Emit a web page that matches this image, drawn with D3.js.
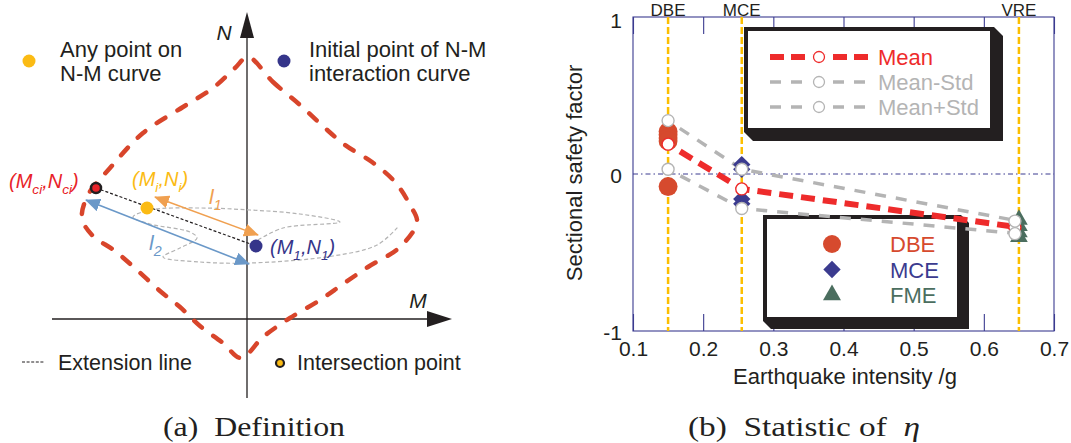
<!DOCTYPE html>
<html>
<head>
<meta charset="utf-8">
<script src="https://cdn.jsdelivr.net/npm/d3@7"></script>
<style>
  body { margin: 0; background: #fff; }
  svg text { font-family: "Liberation Sans", Arial, sans-serif; }
</style>
</head>
<body>
<div id="container"></div>
<script>
/* DATA ############################################################ */
// (a) N-M diagram, points in M / N units (origin at the axes crossing)
const envelope = [
  [1, 262], [26, 237], [53, 214], [78, 191], [98, 174], [125, 157], [148, 137],
  [163, 114], [170, 97], [153, 72], [121, 52], [96, 35], [73, 19], [43, 1],
  [16, -18], [-6, -39], [-24, -24], [-47, -7], [-67, 12], [-87, 28], [-110, 49],
  [-132, 68], [-155, 84], [-165, 101], [-159, 124], [-137, 151], [-104, 186],
  [-64, 212], [-34, 231], [-12, 251],
];
const loadPath = [
  [11, 79], [36, 91], [93, 97], [53, 105], [3, 109], [-47, 111], [-97, 109],
  [-114, 102], [-97, 95], [-57, 87], [-50, 81], [-67, 71], [-84, 62], [-47, 57],
  [3, 56], [86, 63], [130, 74], [151, 92],
];
const pointCi = [-151, 131];
const pointI = [-100, 111];
const point1 = [9, 73];
const arrowL1 = [[-92, 122], [11, 84]];
const arrowL2 = [[-161, 119], [2, 55]];

// (b) statistic of eta
const levelNames = ["DBE", "MCE", "VRE"];
const levelIntensity = [0.15, 0.255, 0.65];
const dbeEta = [0.27, 0.25, 0.23, 0.21, -0.08];
const mceEta = [0.06, 0.03, -0.16, -0.19];
const fmeEta = [-0.29, -0.33, -0.37, -0.4];
const meanEta = [0.19, -0.095, -0.34];
const meanMinusStdEta = [0.03, -0.22, -0.38];
const meanPlusStdEta = [0.34, 0.03, -0.3];
const xTicks = [0.1, 0.2, 0.3, 0.4, 0.5, 0.6, 0.7];
const yTicks = [-1, 0, 1];

/* COLORS ########################################################## */
const navy = "#3b3b90";
const ink = "#231f20";
const envRed = "#d8452b";
const gold = "#fbbb14";
const dbeColor = "#d64a2e";
const mceColor = "#3b3b8f";
const fmeColor = "#4b6e5f";
const meanRed = "#ee2b2b";
const stdGray = "#b4b4b4";
const vlineGold = "#fcbf00";

const svg = d3
  .select("#container")
  .append("svg")
  .attr("width", 1071)
  .attr("height", 443)
  .style("background-color", "white");

const defs = svg.append("defs");
[["head-orange", "#f0a050"], ["head-blue", "#6a98c8"]].forEach(([id, c]) => {
  defs
    .append("marker")
    .attr("id", id)
    .attr("viewBox", "0 0 15 13")
    .attr("markerWidth", 15)
    .attr("markerHeight", 13)
    .attr("markerUnits", "userSpaceOnUse")
    .attr("refX", 14)
    .attr("refY", 6.5)
    .attr("orient", "auto-start-reverse")
    .append("path")
    .attr("d", "M0,0 L15,6.5 L0,13 Z")
    .attr("fill", c);
});

// helper for italic labels with subscripts
function subLabel(g, x, y, parts, color, size) {
  const t = g
    .append("text")
    .attr("x", x)
    .attr("y", y)
    .attr("fill", color)
    .style("font-size", size + "px")
    .style("font-style", "italic");
  let low = false;
  parts.forEach(([txt, sub]) => {
    const s = t.append("tspan").text(txt);
    if (sub && !low) s.attr("dy", size * 0.28);
    if (!sub && low) s.attr("dy", -size * 0.28);
    if (sub) s.style("font-size", size * 0.68 + "px");
    low = sub;
  });
  return t;
}

/* (a) DEFINITION ################################################## */
const sx = d3.scaleLinear().domain([-195, 205]).range([52, 452]);
const sy = d3.scaleLinear().domain([-79, 307]).range([398, 12]);
const gA = svg.append("g");

// axes
gA.append("line")
  .attr("x1", sx(0)).attr("x2", sx(0))
  .attr("y1", sy(-79)).attr("y2", sy(282))
  .attr("stroke", ink).attr("stroke-width", 1.3);
gA.append("path")
  .attr("d", `M${sx(0)},${sy(307)} L${sx(0) + 7},${sy(281)} L${sx(0) - 7},${sy(281)} Z`)
  .attr("fill", ink);
gA.append("line")
  .attr("x1", sx(-195)).attr("x2", sx(181))
  .attr("y1", sy(0)).attr("y2", sy(0))
  .attr("stroke", ink).attr("stroke-width", 1.3);
gA.append("path")
  .attr("d", `M${sx(205)},${sy(0)} L${sx(180)},${sy(0) - 8} L${sx(180)},${sy(0) + 8} Z`)
  .attr("fill", ink);
gA.append("text").attr("x", 224).attr("y", 40).attr("text-anchor", "middle")
  .style("font-size", "21px").style("font-style", "italic").attr("fill", ink).text("N");
gA.append("text").attr("x", 418).attr("y", 308).attr("text-anchor", "middle")
  .style("font-size", "21px").style("font-style", "italic").attr("fill", ink).text("M");

// envelope
const lineA = d3.line().x((d) => sx(d[0])).y((d) => sy(d[1]));
gA.append("path")
  .attr("d", lineA.curve(d3.curveCatmullRomClosed)(envelope))
  .attr("fill", "none")
  .attr("stroke", envRed)
  .attr("stroke-width", 4.5)
  .attr("stroke-linecap", "round")
  .attr("stroke-dasharray", "10,14");

// load path
gA.append("path")
  .attr("d", lineA.curve(d3.curveCatmullRom)(loadPath))
  .attr("fill", "none")
  .attr("stroke", "#b3b3b3")
  .attr("stroke-width", 1.2)
  .attr("stroke-dasharray", "4,2.5");

// extension line
gA.append("line")
  .attr("x1", sx(pointCi[0])).attr("y1", sy(pointCi[1]))
  .attr("x2", sx(point1[0])).attr("y2", sy(point1[1]))
  .attr("stroke", ink).attr("stroke-width", 1.2).attr("stroke-dasharray", "3,2");

// arrows
[[arrowL1, "#f0a050", "head-orange"], [arrowL2, "#6a98c8", "head-blue"]].forEach(([a, c, m]) => {
  gA.append("line")
    .attr("x1", sx(a[0][0])).attr("y1", sy(a[0][1]))
    .attr("x2", sx(a[1][0])).attr("y2", sy(a[1][1]))
    .attr("stroke", c).attr("stroke-width", 1.6)
    .attr("marker-start", `url(#${m})`).attr("marker-end", `url(#${m})`);
});

// points
gA.append("circle").attr("cx", sx(pointCi[0])).attr("cy", sy(pointCi[1])).attr("r", 5)
  .attr("fill", "#e8232a").attr("stroke", ink).attr("stroke-width", 2.5);
gA.append("circle").attr("cx", sx(pointI[0])).attr("cy", sy(pointI[1])).attr("r", 6.5)
  .attr("fill", gold);
gA.append("circle").attr("cx", sx(point1[0])).attr("cy", sy(point1[1])).attr("r", 6.5)
  .attr("fill", "#35358a");

// point labels
subLabel(gA, 9, 188, [["(", 0], ["M", 0], ["ci", 1], [",", 0], ["N", 0], ["ci", 1], [")", 0]], "#e8232a", 20);
subLabel(gA, 132, 186, [["(", 0], ["M", 0], ["i", 1], [",", 0], ["N", 0], ["i", 1], [")", 0]], gold, 20);
subLabel(gA, 270, 254, [["(", 0], ["M", 0], ["1", 1], [",", 0], ["N", 0], ["1", 1], [")", 0]], "#35358a", 20);
subLabel(gA, 209, 204, [["l", 0], ["1", 1]], "#f0a050", 21);
subLabel(gA, 149, 250, [["l", 0], ["2", 1]], "#6a98c8", 21);

// legend texts
gA.append("circle").attr("cx", 29).attr("cy", 61).attr("r", 6.5).attr("fill", gold);
gA.append("text").attr("x", 60).attr("y", 57).style("font-size", "22px").attr("fill", ink).text("Any point on");
gA.append("text").attr("x", 60).attr("y", 81).style("font-size", "22px").attr("fill", ink).text("N-M curve");
gA.append("circle").attr("cx", 284).attr("cy", 61).attr("r", 6.5).attr("fill", "#35358a");
gA.append("text").attr("x", 309).attr("y", 57).style("font-size", "22px").attr("fill", ink).text("Initial point of N-M");
gA.append("text").attr("x", 309).attr("y", 81).style("font-size", "22px").attr("fill", ink).text("interaction curve");
gA.append("line").attr("x1", 22).attr("x2", 44).attr("y1", 362).attr("y2", 362)
  .attr("stroke", ink).attr("stroke-width", 1).attr("stroke-dasharray", "3,1.6");
gA.append("text").attr("x", 58).attr("y", 370).style("font-size", "21.5px").attr("fill", ink).text("Extension line");
gA.append("circle").attr("cx", 280).attr("cy", 363).attr("r", 4).attr("fill", gold)
  .attr("stroke", ink).attr("stroke-width", 2.2);
gA.append("text").attr("x", 297).attr("y", 370).style("font-size", "21.5px").attr("fill", ink).text("Intersection point");

// caption
gA.append("text")
  .attr("x", 163).attr("y", 436)
  .attr("textLength", 182).attr("lengthAdjust", "spacingAndGlyphs")
  .style("font-family", "'Liberation Serif', 'Times New Roman', serif")
  .style("font-size", "28px").style("white-space", "pre")
  .attr("fill", ink).text("(a)  Definition");

/* (b) STATISTIC OF ETA ############################################ */
const x = d3.scaleLinear().domain([0.1, 0.7]).range([633, 1054]);
const y = d3.scaleLinear().domain([-1, 1]).range([331, 17]);
const gB = svg.append("g");

// frame
gB.append("rect")
  .attr("x", x(0.1)).attr("y", y(1))
  .attr("width", x(0.7) - x(0.1)).attr("height", y(-1) - y(1))
  .attr("fill", "none").attr("stroke", navy).attr("stroke-width", 1.1);

// zero line
gB.append("line")
  .attr("x1", x(0.1)).attr("x2", x(0.7)).attr("y1", y(0)).attr("y2", y(0))
  .attr("stroke", navy).attr("stroke-width", 1).attr("stroke-dasharray", "5,3,1.5,3");

// axes
const xAxisB = gB.append("g")
  .attr("transform", `translate(0,${y(-1)})`)
  .call(d3.axisBottom(x).tickValues(xTicks).tickSizeInner(-17).tickSizeOuter(0)
    .tickPadding(10).tickFormat(d3.format(".1f")));
const xAxisT = gB.append("g")
  .attr("transform", `translate(0,${y(1)})`)
  .call(d3.axisTop(x).tickValues(xTicks).tickSizeInner(-17).tickSizeOuter(0).tickFormat(""));
const yAxisL = gB.append("g")
  .attr("transform", `translate(${x(0.1)},0)`)
  .call(d3.axisLeft(y).tickValues(yTicks).tickSize(0).tickPadding(11).tickFormat((d) => d));
[xAxisB, xAxisT, yAxisL].forEach((a) => {
  a.select(".domain").remove();
  a.selectAll("line").attr("stroke", navy).attr("stroke-width", 1.1);
  a.selectAll("text").style("font-size", "21px").style("font-family", "'Liberation Sans', Arial, sans-serif").attr("fill", ink);
});
yAxisL.selectAll("text").attr("dy", (d) => (d === 1 ? "0.5em" : "0.4em"));

gB.append("text")
  .attr("x", 845).attr("y", 384).attr("text-anchor", "middle")
  .style("font-size", "22px").attr("fill", ink).text("Earthquake intensity /g");
gB.append("text")
  .attr("transform", "translate(582,173) rotate(-90)").attr("text-anchor", "middle")
  .style("font-size", "22px").attr("fill", ink).text("Sectional safety factor");

// level lines and labels
gB.selectAll(".level-line")
  .data(levelIntensity)
  .join("line")
  .attr("class", "level-line")
  .attr("x1", (d) => x(d)).attr("x2", (d) => x(d))
  .attr("y1", y(1)).attr("y2", y(-1))
  .attr("stroke", vlineGold).attr("stroke-width", 2.5).attr("stroke-dasharray", "7,3");
gB.selectAll(".level-label")
  .data(levelNames)
  .join("text")
  .attr("class", "level-label")
  .attr("x", (_, i) => x(levelIntensity[i])).attr("y", 16)
  .attr("text-anchor", "middle").style("font-size", "17px").attr("fill", ink)
  .text((d) => d);

// legend boxes
function legendBox(x0, y0, w, h, off) {
  gB.append("path")
    .attr("d", `M${x0},${y0} L${x0 + w},${y0} L${x0 + w + off},${y0 + off} L${x0 + w + off},${y0 + h + off} L${x0 + off},${y0 + h + off} L${x0},${y0 + h} Z`)
    .attr("fill", ink);
  gB.append("rect")
    .attr("x", x0 + 2).attr("y", y0 + 2).attr("width", w - 4).attr("height", h - 4)
    .attr("fill", "white").attr("stroke", ink).attr("stroke-width", 4);
}
legendBox(744, 27, 250, 105, 9);
legendBox(763, 215, 198, 106, 8);

// legend 1 : mean / std
const legend1 = [
  ["Mean", meanRed, meanRed, 6, "14,7"],
  ["Mean-Std", stdGray, stdGray, 3.5, "11,10"],
  ["Mean+Std", stdGray, stdGray, 3.5, "11,10"],
];
legend1.forEach(([name, c, sc, w, dash], i) => {
  const cy = 57 + i * 25;
  gB.append("line").attr("x1", 770).attr("x2", 868).attr("y1", cy).attr("y2", cy)
    .attr("stroke", c).attr("stroke-width", w).attr("stroke-dasharray", dash);
  gB.append("circle").attr("cx", 819).attr("cy", cy).attr("r", 7.5).attr("fill", "white");
  gB.append("circle").attr("cx", 819).attr("cy", cy).attr("r", 5.5).attr("fill", "white")
    .attr("stroke", sc).attr("stroke-width", 1.3);
  gB.append("text").attr("x", 878).attr("y", cy + 8).style("font-size", "22px").attr("fill", c).text(name);
});

// legend 2 : data markers
const sym = {
  DBE: d3.symbol(d3.symbolCircle, 254)(),
  MCE: d3.symbol(d3.symbolSquare, 150)(),
  FME: d3.symbol(d3.symbolTriangle, 140)(),
};
const legend2 = [["DBE", dbeColor], ["MCE", mceColor], ["FME", fmeColor]];
legend2.forEach(([name, c], i) => {
  const cy = 244 + i * 25.5;
  gB.append("path").attr("d", sym[name])
    .attr("transform", `translate(832,${cy})` + (name === "MCE" ? " rotate(45)" : ""))
    .attr("fill", c);
  gB.append("text").attr("x", 890).attr("y", cy + 8).style("font-size", "22px").attr("fill", c).text(name);
});

// statistic lines
const lineB = d3.line().x((d, i) => x(levelIntensity[i])).y((d) => y(d));
[[meanPlusStdEta, stdGray, 3.5, "11,10"], [meanMinusStdEta, stdGray, 3.5, "11,10"], [meanEta, meanRed, 6, "14,8"]]
  .forEach(([vals, c, w, dash]) => {
    gB.append("path").attr("d", lineB(vals)).attr("fill", "none")
      .attr("stroke", c).attr("stroke-width", w).attr("stroke-dasharray", dash)
      .attr("stroke-dashoffset", -14);
  });

// data markers
gB.selectAll(".dbe").data(dbeEta).join("path").attr("class", "dbe")
  .attr("d", d3.symbol(d3.symbolCircle, 280)())
  .attr("transform", (d) => `translate(${x(levelIntensity[0])},${y(d)})`)
  .attr("fill", dbeColor);
gB.selectAll(".mce").data(mceEta).join("path").attr("class", "mce")
  .attr("d", d3.symbol(d3.symbolSquare, 150)())
  .attr("transform", (d) => `translate(${x(levelIntensity[1])},${y(d)}) rotate(45)`)
  .attr("fill", mceColor);
gB.selectAll(".fme").data(fmeEta).join("path").attr("class", "fme")
  .attr("d", d3.symbol(d3.symbolTriangle, 135)())
  .attr("transform", (d) => `translate(${x(levelIntensity[2])},${y(d)})`)
  .attr("fill", fmeColor);

// statistic circles
[[meanEta, meanRed], [meanMinusStdEta, stdGray], [meanPlusStdEta, stdGray]].forEach(([vals, c]) => {
  gB.selectAll(null).data(vals).join("circle")
    .attr("cx", (_, i) => x(levelIntensity[i]) - (i === 2 ? 4 : 0))
    .attr("cy", (d) => y(d))
    .attr("r", 6)
    .attr("fill", "white").attr("stroke", c).attr("stroke-width", 1.4);
});

// caption
const capB = gB.append("text")
  .attr("x", 688).attr("y", 436)
  .attr("textLength", 232).attr("lengthAdjust", "spacingAndGlyphs")
  .style("font-family", "'Liberation Serif', 'Times New Roman', serif")
  .style("font-size", "28px").style("white-space", "pre").attr("fill", ink);
capB.append("tspan").text("(b)  Statistic of  ");
capB.append("tspan").style("font-style", "italic").text("η");
</script>
</body>
</html>
